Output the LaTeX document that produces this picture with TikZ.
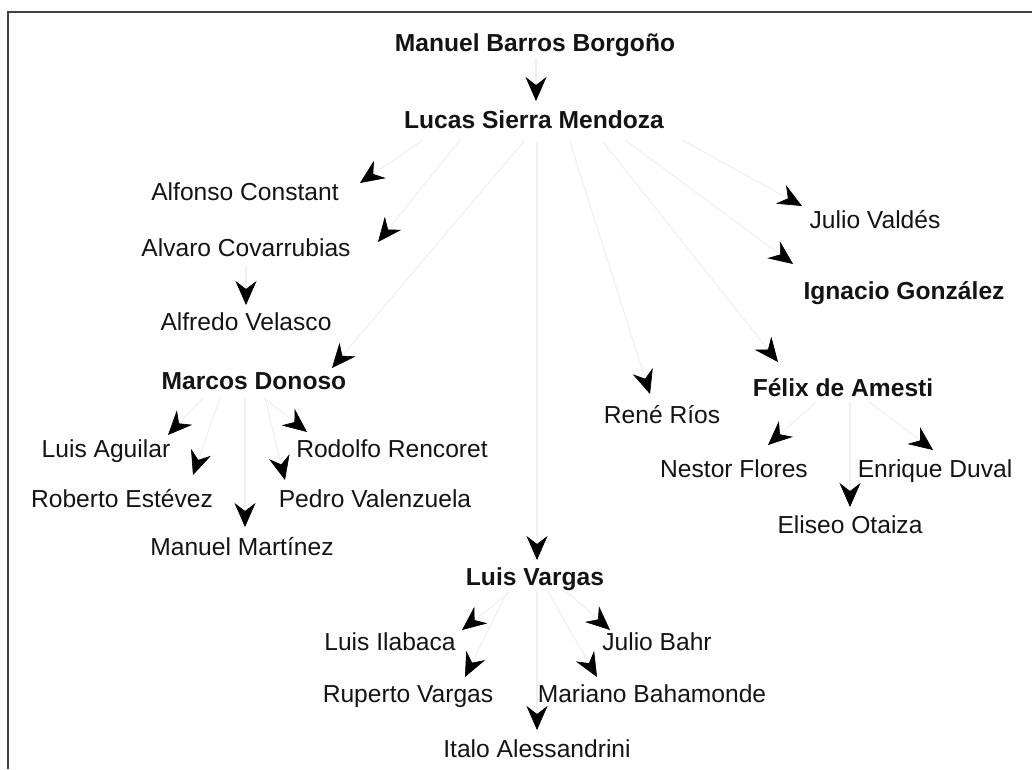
\documentclass[tikz,border=0pt]{standalone}
\usepackage{fontspec}
\setmainfont{Liberation Sans}
\usetikzlibrary{arrows.meta,calc}
\tikzset{
  person/.style={inner sep=0pt, anchor=base, text=black!92, font=\fontsize{24.6}{28}\selectfont},
  boss/.style={person, font=\fontsize{24.6}{28}\selectfont\bfseries},
  edge/.style={draw=black!6, line width=1.2pt, -{Stealth[length=24pt,width=21pt,inset=8pt,black,line width=0.6pt]}},
  frame/.style={draw=black!75, line width=2.2pt}
}
\begin{document}
\begin{tikzpicture}[x=1pt,y=-1pt]
\useasboundingbox (0,0) rectangle (1032,769);
\draw[frame] (8,769) -- (8,12) -- (1032,12);

\node[boss]   (mbb)   at (535,51)  {Manuel Barros Borgoño};
\node[boss]   (lsm)   at (534,128) {Lucas Sierra Mendoza};
\node[person] (ac)    at (245,200) {Alfonso Constant};
\node[person] (acv)   at (246,256) {Alvaro Covarrubias};
\node[person] (av)    at (246,330) {Alfredo Velasco};
\node[boss]   (md)    at (254,389) {Marcos Donoso};
\node[person] (la)    at (106,457) {Luis Aguilar};
\node[person] (re)    at (122,507) {Roberto Estévez};
\node[person] (mm)    at (242,555) {Manuel Martínez};
\node[person] (rre)   at (392,457) {Rodolfo Rencoret};
\node[person] (pv)    at (375,507) {Pedro Valenzuela};
\node[person] (jv)    at (875,228) {Julio Valdés};
\node[boss]   (ig)    at (904,299) {Ignacio González};
\node[boss]   (fa)    at (843,396) {Félix de Amesti};
\node[person] (rri)   at (662,423) {René Ríos};
\node[person] (nf)    at (734,477) {Nestor Flores};
\node[person] (ed)    at (935,477) {Enrique Duval};
\node[person] (eo)    at (850,533) {Eliseo Otaiza};
\node[boss]   (lv)    at (535,585) {Luis Vargas};
\node[person] (li)    at (390,650) {Luis Ilabaca};
\node[person] (rv)    at (408,702) {Ruperto Vargas};
\node[person] (ia)    at (537,757) {Italo Alessandrini};
\node[person] (jb)    at (657,650) {Julio Bahr};
\node[person] (mb)    at (652,702) {Mariano Bahamonde};

\draw[edge] ($(mbb.base)+(1,7)$)   -- ($(lsm.base)+(2,-27)$);
\draw[edge] ($(lsm.base)+(-111,12)$) -- ($(ac.base)+(115,-17)$);
\draw[edge] ($(lsm.base)+(-74,12)$)  -- ($(acv.base)+(132,-14)$);
\draw[edge] ($(acv.base)+(0,9)$)     -- ($(av.base)+(0,-25)$);
\draw[edge] ($(lsm.base)+(-9,12)$)   -- ($(md.base)+(78,-21)$);
\draw[edge] ($(lsm.base)+(148,12)$)  -- ($(jv.base)+(-73,-22)$);
\draw[edge] ($(lsm.base)+(91,12)$)   -- ($(ig.base)+(-111,-35)$);
\draw[edge] ($(lsm.base)+(69,14)$)   -- ($(fa.base)+(-65,-34)$);
\draw[edge] ($(lsm.base)+(36,14)$)   -- ($(rri.base)+(-12,-29)$);
\draw[edge] ($(lsm.base)+(3,14)$)    -- ($(lv.base)+(2,-25)$);
\draw[edge] ($(md.base)+(-51,9)$)    -- ($(la.base)+(62,-22)$);
\draw[edge] ($(md.base)+(-34,9)$)    -- ($(re.base)+(71,-32)$);
\draw[edge] ($(md.base)+(-9,9)$)     -- ($(mm.base)+(3,-28)$);
\draw[edge] ($(md.base)+(10,9)$)     -- ($(rre.base)+(-85,-25)$);
\draw[edge] ($(md.base)+(11,9)$)     -- ($(pv.base)+(-90,-27)$);
\draw[edge] ($(fa.base)+(-27,6)$)    -- ($(nf.base)+(34,-32)$);
\draw[edge] ($(fa.base)+(26,6)$)     -- ($(ed.base)+(-2,-27)$);
\draw[edge] ($(fa.base)+(7,6)$)      -- ($(eo.base)+(0,-26)$);
\draw[edge] ($(lv.base)+(-25,7)$)    -- ($(li.base)+(72,-20)$);
\draw[edge] ($(lv.base)+(-28,7)$)    -- ($(rv.base)+(57,-25)$);
\draw[edge] ($(lv.base)+(2,7)$)      -- ($(ia.base)+(0,-27)$);
\draw[edge] ($(lv.base)+(32,7)$)     -- ($(jb.base)+(-47,-20)$);
\draw[edge] ($(lv.base)+(13,7)$)     -- ($(mb.base)+(-55,-25)$);
\end{tikzpicture}
\end{document}
